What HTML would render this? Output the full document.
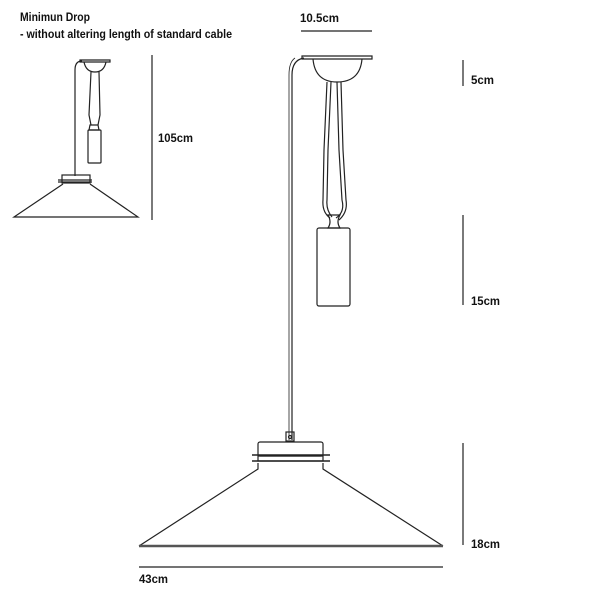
<!DOCTYPE html>
<html><head><style>
body{margin:0;background:#fff;}
svg{display:block}
text{font-family:"Liberation Sans",sans-serif;font-size:11.5px;fill:#111;font-weight:bold}
</style></head><body>
<svg width="600" height="600" viewBox="0 0 600 600">
<g fill="none" stroke="#222" stroke-width="1.2">
<!-- small lamp -->
<path d="M80 60 L110 60 L110 62 L80 62 Z"/>
<path d="M84 62 Q86 72 95 72 Q104 72 106 62"/>
<path d="M82 61 Q75 61 75 70 L75 176"/>
<path d="M91 72 L89 115 L91 125 M99 72 L100 115 L98 125"/>
<rect x="88" y="130" width="13" height="33" rx="1"/>
<path d="M90 125 L98 125 L99 130 L89 130 Z"/>
<rect x="62" y="175" width="28" height="8"/>
<path d="M58 180 L92 180 M58 182 L92 182"/>
<path d="M63 184 L14 217 L138 217 L90 184"/>
<path d="M152 55 L152 220"/>
<!-- main -->
<path d="M302 56 L372 56 L372 59 L302 59 Z"/>
<path d="M313 59 Q315 82 337 82 Q360 82 362 59"/>
<path d="M304 58 Q292 60 292 75 L292 440"/>
<path d="M295 58 Q289 62 289 75 L289 440" stroke-width="0.8"/>
<path d="M327 82 L324 150 L323 200 Q322 212 330 218 M331 82 L328 150 L327 200 Q326 210 332 217"/>
<path d="M337 82 L339 150 L342 200 Q345 212 336 218 M341 82 L343 150 L346 200 Q348 212 339 220"/>
<path d="M328 215 L340 215 Q336 222 340 228 L328 228 Q332 222 328 215 Z"/>
<rect x="317" y="228" width="33" height="78" rx="2"/>
<rect x="286" y="432" width="8" height="9"/>
<circle cx="290" cy="437" r="1.5"/>
<rect x="258" y="442" width="65" height="14" rx="2"/>
<path d="M252 455 L330 455 M252 461 L330 461" stroke-width="1.5"/>
<rect x="258" y="456" width="65" height="5"/>
<path d="M258 463 L258 469 L139 546 M323 463 L323 469 L443 546"/>
<path d="M139 546 L443 546" stroke-width="2.5" stroke="#555"/>
<path d="M139 567 L443 567"/>
<path d="M301 31 L372 31"/>
<path d="M463 60 L463 86 M463 215 L463 305 M463 443 L463 545"/>
</g>
<text x="20" y="21" textLength="70" lengthAdjust="spacingAndGlyphs">Minimun Drop</text>
<text x="20" y="38" textLength="212" lengthAdjust="spacingAndGlyphs">- without altering length of standard cable</text>
<text x="158" y="142" textLength="35" lengthAdjust="spacingAndGlyphs">105cm</text>
<text x="300" y="22" textLength="39" lengthAdjust="spacingAndGlyphs">10.5cm</text>
<text x="471" y="84" textLength="23" lengthAdjust="spacingAndGlyphs">5cm</text>
<text x="471" y="305" textLength="29" lengthAdjust="spacingAndGlyphs">15cm</text>
<text x="471" y="548" textLength="29" lengthAdjust="spacingAndGlyphs">18cm</text>
<text x="139" y="583" textLength="29" lengthAdjust="spacingAndGlyphs">43cm</text>
</svg>
</body></html>
